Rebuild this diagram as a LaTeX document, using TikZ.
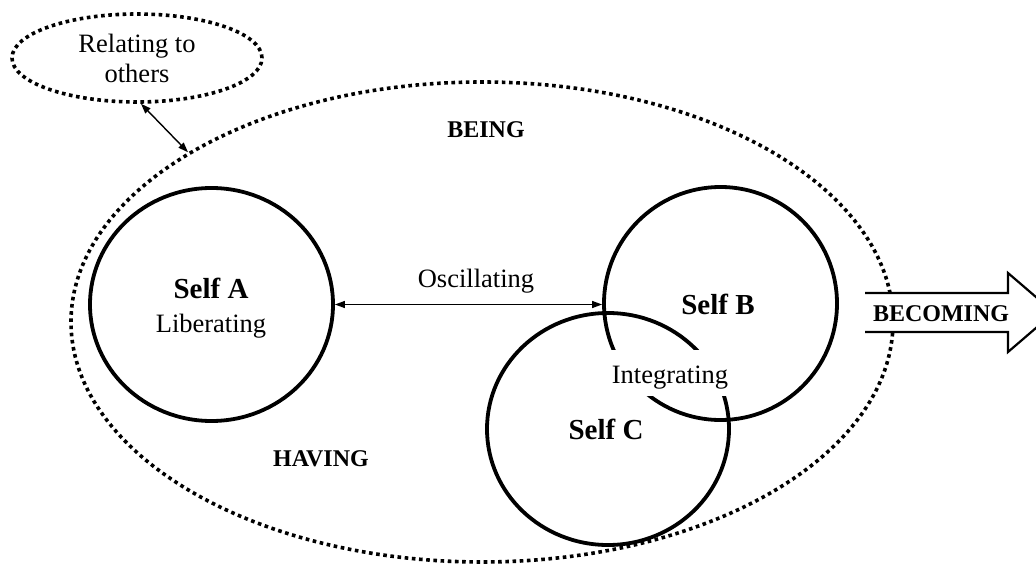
\documentclass[tikz,border=0pt]{standalone}
\usepackage{fontspec}
\setmainfont{Liberation Serif}
\usetikzlibrary{shapes.geometric,arrows.meta}
\begin{document}
\begin{tikzpicture}[x=1pt,y=-1pt,
  ring/.style={draw,ellipse,line width=3.8pt,inner sep=0pt},
  dotring/.style={draw,ellipse,inner sep=0pt,line width=3.6pt,dash pattern=on 3.6pt off 3.6pt},
  lbl/.style={font=\fontsize{26.5}{30}\selectfont,inner sep=0pt,anchor=base},
  caps/.style={font=\fontsize{24}{28}\selectfont\bfseries,inner sep=0pt,anchor=base},
  selflbl/.style={font=\fontsize{29}{32}\selectfont\bfseries,inner sep=0pt,anchor=base},
  twoway/.style={line width=1.4pt,{Triangle[length=10pt,width=7pt]}-{Triangle[length=10pt,width=7pt]}}
]
\useasboundingbox (0,0) rectangle (1036,564);

% outer dotted ellipse
\node[dotring,minimum width=822pt,minimum height=480pt] (world) at (482,322) {};

% relating to others
\node[dotring,minimum width=250pt,minimum height=88pt,align=center,
      font=\fontsize{26.5}{30}\selectfont] (rel) at (137,58) {Relating to\\others};
\draw[twoway] (rel.-85) -- (world.150);

% BECOMING arrow
\fill[white] (865,293) -- (1008,293) -- (1008,273) -- (1054,312.5) -- (1008,352) -- (1008,332) -- (865,332) -- cycle;
\draw[line width=2.2pt,line join=miter] (865,293) -- (1008,293) -- (1008,273) -- (1054,312.5) -- (1008,352) -- (1008,332) -- (865,332);
\node[caps] (becoming) at (941,321) {BECOMING};

% selves
\node[ring,minimum width=243pt,minimum height=233pt] (selfA) at (211.5,304.5) {};
\node[ring,minimum width=233pt,minimum height=233pt] (selfB) at (720.5,303.5) {};
\node[ring,minimum width=242pt,minimum height=232pt] (selfC) at (608,429) {};

\draw[twoway] (selfA.east) -- (selfA.east -| selfB.west);

% labels
\node[caps] (being) at (486,138) {BEING};
\node[caps] (having) at (321,466) {HAVING};
\node[selflbl] (selfAlbl) at (211,298) {Self A};
\node[lbl] (liberating) at (211,332) {Liberating};
\node[selflbl] (selfBlbl) at (718,314) {Self B};
\node[selflbl] (selfClbl) at (606,439) {Self C};
\node[lbl] (oscillating) at (476,287) {Oscillating};
\node[lbl,fill=white,inner xsep=8pt,inner ysep=0pt,text height=33pt,text depth=13pt] (integrating) at (670,383) {Integrating};
\end{tikzpicture}
\end{document}
